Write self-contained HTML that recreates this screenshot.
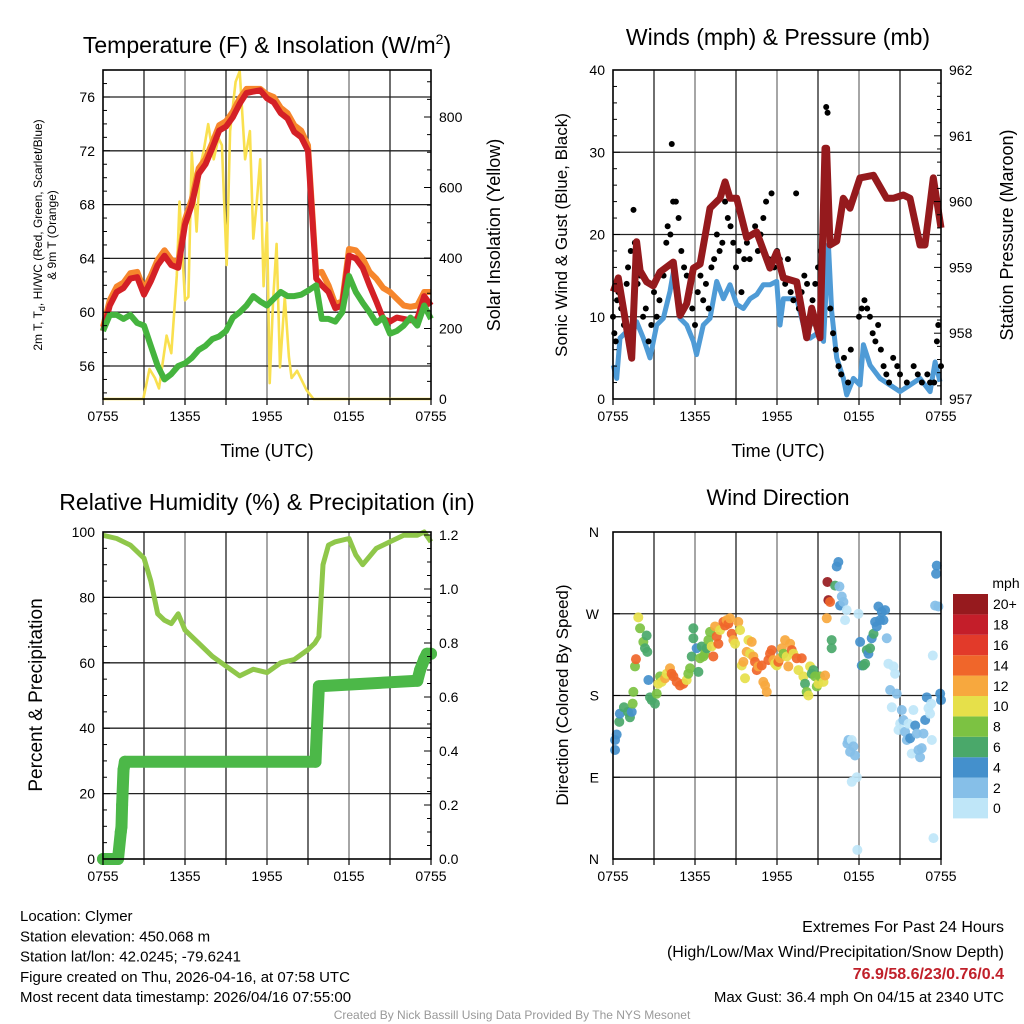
<!DOCTYPE html>
<html><head><meta charset="utf-8"><style>
html,body{margin:0;padding:0;background:#fff;}
svg{display:block;font-family:"Liberation Sans",Arial,sans-serif;}
</style></head><body>
<svg id="c" width="1024" height="1024" viewBox="0 0 1024 1024" xmlns="http://www.w3.org/2000/svg"></svg>
<script>
// ---------- DATA ----------
const hrTicks = ["0755","1355","1955","0155","0755"];
const tempT = [0,0.5,1,1.5,2,2.5,3,3.5,4,4.5,5,5.5,6,6.5,7,7.5,8,8.5,9,9.5,10,10.5,11,11.5,12,12.5,13,13.5,14,14.5,15,15.6,16,16.5,17,17.5,18,18.5,19,19.5,20,20.5,21,21.5,22,22.5,23,23.5,24];
const tempRed = [58.6,60.5,61.5,61.8,62.5,62.6,61.3,62.3,63.5,64.2,63.5,63.3,66.5,68,70.3,71,72.2,73.5,73.8,74.5,75.5,76.3,76.4,76.5,75.9,75.6,74.8,74.4,73.4,73,72,62.5,62,61.5,60.3,60.5,64.2,64,63.3,62,60.8,59.5,59.3,59.6,59.5,59.4,59.5,61.2,60.5];
const tempOrange = [58.9,60.9,61.9,62.2,62.9,63,61.7,62.7,63.9,64.6,63.9,63.7,66.9,68.4,70.7,71.4,72.6,73.9,74.2,74.9,75.9,76.6,76.6,76.6,76.2,76,75.2,74.8,73.9,73.5,72.4,62.9,63,62,60.6,60.8,64.7,64.6,64,63,62.5,61.8,61.5,61,60.5,60.4,60.5,61.5,61.5];
const tempDew = [58.6,59.8,59.8,59.5,59.8,59.2,59.0,57.5,56,55,55.4,56,56.2,56.6,57.2,57.5,58,58.2,58.6,59.6,60,60.5,61.2,60.8,60.5,61,61.5,61.2,61.2,61.3,61.6,62,59.5,59.5,59.3,60,62.7,61.5,60.7,60,59.2,59.6,58.4,58.6,59,59.6,59,60.5,59.5];
const solT = [0,2.95,3.4,3.8,4.1,4.65,5.0,5.4,5.6,6.0,6.25,6.5,6.85,7.1,7.35,7.7,8.1,8.45,8.7,9.05,9.3,9.7,10.0,10.4,10.75,11.0,11.25,11.5,11.75,12.0,12.2,12.45,12.7,12.95,13.3,13.6,13.8,14.2,14.9,15.4,24];
const solV = [0,0,85,60,30,180,130,350,560,280,290,700,475,660,700,780,680,740,720,380,760,900,930,680,760,455,560,680,320,500,45,280,440,90,290,120,60,80,25,0,0];
const presT = [0.02,0.39,1.24,1.37,1.73,1.98,2.46,2.95,3.44,4.41,4.9,5.39,5.88,6.37,7.1,7.83,8.2,8.56,9.05,9.78,10.51,11.49,11.98,12.46,13.44,14.17,14.54,15.15,15.51,15.63,15.88,16.37,16.85,17.34,18.07,19.05,20.02,20.51,21.24,21.73,22.46,22.83,23.44,24];
const presV = [958.63,958.84,957.78,957.62,959.39,958.95,958.78,958.72,958.93,959.08,958.27,958.45,958.99,959.05,959.9,960.05,960.3,960.05,960.05,959.45,959.54,958.99,959.23,958.84,958.78,957.93,958.38,957.93,960.81,960.81,959.34,959.4,960.05,959.9,960.36,960.4,960.05,960.05,960.1,960.05,959.34,959.34,960.36,959.6];
const windT = [0.02,0.27,0.51,1.0,1.24,1.73,2.22,2.71,3.2,3.68,4.17,4.42,4.9,5.39,5.88,6.12,6.61,7.1,7.59,8.08,8.56,9.05,9.54,10.03,10.52,11.0,11.49,11.98,12.22,12.47,12.96,13.44,13.93,14.42,15.15,15.4,15.76,16.0,16.37,16.86,17.1,17.59,18.07,18.32,18.81,19.54,20.27,21.0,21.73,22.46,23.2,23.57,23.93];
const windV = [4.1,2.5,7.4,8.2,7,9.4,7.4,5,9,9.8,13.1,15.5,9.8,9,7,5.4,9,9.8,14.3,12.2,13.9,11.5,11,12.2,12.7,13.9,13.9,14.3,9,12.2,12.2,12.2,9,7.4,8.2,7,18.8,10.6,5,2.5,0.5,2.5,1.7,6.6,4.1,2.5,1.7,0.9,1.7,2.5,0.9,4.5,2.1];
const gustT = [0.0,0.1,0.2,0.3,0.4,0.6,0.8,1.0,1.1,1.3,1.5,1.6,1.8,2.0,2.2,2.4,2.6,2.8,3.0,3.2,3.4,3.7,3.9,4.0,4.2,4.3,4.4,4.6,4.8,5.0,5.2,5.4,5.6,5.8,6.0,6.2,6.4,6.6,6.8,7.0,7.2,7.4,7.6,7.8,8.0,8.2,8.4,8.6,8.8,9.0,9.2,9.4,9.6,9.8,10.0,10.2,10.4,10.6,10.8,11.0,11.2,11.4,11.6,11.8,12.0,12.2,12.4,12.6,12.8,13.0,13.2,13.4,13.6,13.8,14.0,14.2,14.4,14.6,14.8,15.0,15.2,15.6,15.7,15.9,16.1,16.3,16.5,16.7,16.9,17.2,17.4,18.0,18.2,18.4,18.6,18.8,19.0,19.2,19.4,19.6,19.8,20.0,20.2,20.5,20.8,21.0,21.5,22.0,22.3,22.6,23.0,23.2,23.5,23.7,23.8,24.0];
const gustV = [10,8,7,12,13,11,9,14,16,18,23,19,14,15,10,11,7,9,13,10,12,15,19,21,20,31,24,24,22,18,16,15,13,11,9,13,15,12,14,11,16,17,20,18,19,24,22,21,19,16,18,13,17,19,17,20,21,18,20,22,24,17,25,16,18,17,15,14,17,13,12,25,11,13,15,14,9,12,14,16,18,35.5,34.8,11,8,6,4,3,5,2,6,10,11,12,11,10,8,7,9,6,4,3,2,5,4,3,2,4,3,2,3,2,2,7,9,4];
const rhT = [0,1,2,3,3.5,4,4.5,5,5.5,6,7,8,9,10,11,12,13,14,15,15.5,15.8,16.1,16.5,17,18,18.5,19,20,21,22,23,23.5,24];
const rhV = [99,98,96,92,85,75,73,72,75,70,66,62,59,56,58,57,60,61,64,66,68,90,96,97,98,93,90,95,97,99,99,100,97];
const precT = [0,1.1,1.3,1.35,1.4,1.5,1.6,15.55,15.65,15.8,23.0,23.2,23.5,23.7,24];
const precV = [0,0,0.1,0.12,0.2,0.33,0.36,0.36,0.48,0.64,0.66,0.70,0.74,0.76,0.76];
const dirT = [0.15,0.15,0.27,0.46,0.5,0.8,1.1,1.24,1.37,1.44,1.49,1.61,1.68,1.85,1.98,2.22,2.34,2.46,2.51,2.59,2.71,2.83,3.07,3.2,3.32,3.44,3.56,3.81,3.93,4.17,4.29,4.42,4.66,4.9,5.15,5.39,5.51,5.64,5.76,5.88,5.88,6.12,6.25,6.37,6.49,6.61,6.73,6.86,6.98,7.1,7.22,7.34,7.47,7.59,7.71,7.83,8.08,8.2,8.32,8.44,8.56,8.69,8.81,8.93,9.17,9.3,9.42,9.54,9.66,9.78,9.91,10.03,10.15,10.27,10.39,10.52,10.64,10.88,11.0,11.13,11.25,11.37,11.49,11.61,11.74,11.86,11.98,12.1,12.22,12.35,12.47,12.59,12.71,12.83,12.96,13.08,13.2,13.44,13.57,13.81,13.93,14.05,14.17,14.3,14.42,14.54,14.66,14.79,14.91,15.03,15.15,15.4,15.52,15.64,15.69,15.76,15.88,16.0,16.0,16.25,16.37,16.49,16.57,16.62,16.74,16.86,16.98,17.1,17.15,17.23,17.35,17.47,17.59,17.71,17.84,17.47,17.88,17.96,18.08,18.2,18.32,18.45,18.57,18.69,18.81,18.93,19.06,19.18,19.3,19.42,19.54,19.67,19.79,19.91,20.03,20.15,20.28,20.4,20.52,20.64,20.76,20.89,21.01,21.13,21.25,21.37,21.5,21.62,21.74,21.86,21.98,22.11,22.23,22.35,22.47,22.59,22.72,22.84,22.96,23.08,23.2,23.28,23.33,23.4,23.45,23.57,23.64,23.69,23.81,23.94,24.0];
const dirD = [131,120,137,151,160,167,162,156,162,171,184,212,220,266,254,239,232,246,228,197,178,175,171,182,193,201,195,199,204,210,204,201,195,191,193,197,204,210,223,254,243,232,206,221,234,223,226,232,241,250,234,223,256,245,237,252,261,257,263,259,265,248,241,237,261,252,213,217,199,228,241,226,239,223,217,208,212,213,195,191,184,219,226,230,219,215,213,217,221,232,226,241,223,212,237,230,226,221,208,221,201,193,184,180,212,204,208,201,190,193,201,195,202,265,305,285,283,241,232,301,322,327,300,279,289,283,263,274,127,131,118,131,124,114,90,85,10,270,239,213,213,215,230,226,232,243,248,261,256,278,263,272,263,274,243,215,186,167,212,204,182,142,149,164,153,140,131,149,133,116,164,147,138,120,112,122,138,153,178,166,160,171,131,224,23,279,314,323,278,182,175];
const dirS = [4,4,4,6,4,6,6,6,4,7,8,8,14,10,8,8,6,6,6,4,6,6,6,8,10,7,10,12,10,12,14,14,14,14,14,10,8,8,6,6,6,4,6,8,6,8,8,6,8,8,10,14,12,14,14,10,14,14,12,14,12,14,12,10,12,10,10,12,10,12,10,10,12,12,14,14,12,14,12,12,12,14,14,14,12,10,10,14,12,12,8,12,10,12,12,14,10,14,10,14,10,6,8,10,10,6,6,8,8,10,8,10,12,12,20,20,14,6,6,6,4,4,2,4,2,2,0,0,2,2,2,0,2,2,0,0,0,0,4,4,6,6,6,4,6,4,6,4,4,4,4,4,4,4,2,0,2,0,0,0,2,0,0,2,2,2,2,0,4,0,0,4,2,2,2,2,2,4,4,0,0,0,0,0,0,2,4,4,2,4,4];
const speedLabels = ["0","2","4","6","8","10","12","14","16","18","20+"];
const speedColors = ["#bfe6f8","#86bfe8","#4490cc","#4aa86a","#7cc242","#e6e04a","#f7a83e","#f0662a","#e23a2a","#c41e2a","#961a1e"];

// ---------- HELPERS ----------
const NS="http://www.w3.org/2000/svg";
const svg=document.getElementById('c');
function mk(tag,attrs,parent){const e=document.createElementNS(NS,tag);for(const k in attrs)e.setAttribute(k,attrs[k]);(parent||svg).appendChild(e);return e;}
function txt(s,x,y,size,anchor,rot,parent,fill,weight){const e=mk('text',{x:x,y:y,'font-size':size,'text-anchor':anchor||'middle',fill:fill||'#000'},parent);if(weight)e.setAttribute('font-weight',weight);if(rot)e.setAttribute('transform','rotate('+rot+' '+x+' '+y+')');e.textContent=s;return e;}
function lin(d0,d1,r0,r1){return v=>r0+(v-d0)/(d1-d0)*(r1-r0);}
function path(xs,ys,fx,fy){let d='';for(let i=0;i<xs.length;i++)d+=(i?'L':'M')+fx(xs[i]).toFixed(1)+' '+fy(ys[i]).toFixed(1);return d;}

function panel(name,x0,y0,x1,y1,hGridVals,fy){
  const g=mk('g',{},svg);
  
  
  for(let i=1;i<8;i++){const x=x0+(x1-x0)*i/8;mk('line',{x1:x,y1:y0,x2:x,y2:y1,stroke:(i%2?'#222':'#777'),'stroke-width':1.3},g);}
  hGridVals.forEach(v=>{const y=fy(v);mk('line',{x1:x0,y1:y,x2:x1,y2:y,stroke:'#222','stroke-width':1.3},g);});
  return g;
}
function frame(g,x0,y0,x1,y1){mk('rect',{x:x0,y:y0,width:x1-x0,height:y1-y0,fill:'none',stroke:'#000','stroke-width':1.6},g);}
function xTicks(g,x0,x1,y1){const fx=lin(0,24,x0,x1);
  for(let i=0;i<=24;i+=3){mk('line',{x1:fx(i),y1:y1,x2:fx(i),y2:y1+6,stroke:'#000','stroke-width':1.2},g);}
  hrTicks.forEach((s,i)=>{const t=txt(s,fx(i*6),y1+22,14,'middle',0,g);});}

// ---------- PANEL 1 ----------
(function(){
  const x0=103,x1=431,y0=70,y1=399;
  const fx=lin(0,24,x0,x1), fy=lin(56,76,366,97), fs=lin(0,800,399,117);
  const g=panel('temperature-panel',x0,y0,x1,y1,[56,60,64,68,72,76],fy);
  const ys=mk('path',{d:path(solT,solV,fx,fs),fill:'none',stroke:'#f9e04f','stroke-width':2.6,'stroke-linejoin':'round'},g);
  
  const od=mk('path',{d:path(tempT,tempOrange,fx,fy),fill:'none',stroke:'#f6862c','stroke-width':6,'stroke-linejoin':'round'},g);
  
  const rd=mk('path',{d:path(tempT,tempRed,fx,fy),fill:'none',stroke:'#d42026','stroke-width':6,'stroke-linejoin':'round'},g);
  
  const gd=mk('path',{d:path(tempT,tempDew,fx,fy),fill:'none',stroke:'#45b43e','stroke-width':6,'stroke-linejoin':'round'},g);
  
  frame(g,x0,y0,x1,y1);
  for(let v=54;v<=78;v++){const y=fy(v);if(y<y0||y>y1)continue;mk('line',{x1:x0,y1:y,x2:x0+(v%4==0?7:4),y2:y,stroke:'#000','stroke-width':1},g);}
  [56,60,64,68,72,76].forEach(v=>{const t=txt(String(v),x0-8,fy(v)+5,14,'end',0,g);});
  for(let v=0;v<=900;v+=50){const y=fs(v);if(y<y0)continue;mk('line',{x1:x1,y1:y,x2:x1-(v%200==0?7:4),y2:y,stroke:'#000','stroke-width':1},g);}
  [0,200,400,600,800].forEach(v=>{const t=txt(String(v),x1+8,fs(v)+5,14,'start',0,g);});
  xTicks(g,x0,x1,y1);
  const tt=mk('text',{x:267,y:53,'font-size':23,'text-anchor':'middle'},g);
  tt.innerHTML='Temperature (F) &amp; Insolation (W/m<tspan dy="-9" font-size="14">2</tspan><tspan dy="9">)</tspan>';
  
  const yl=mk('text',{x:42,y:235,'font-size':12,'text-anchor':'middle',transform:'rotate(-90 42 235)'},g);
  yl.innerHTML='2m T, T<tspan dy="3" font-size="9">d</tspan><tspan dy="-3">, HI/WC (Red, Green, Scarlet/Blue)</tspan>';
  
  const yl2=txt('& 9m T (Orange)',56,235,12,'middle',-90,g);
  const yr=txt('Solar Insolation (Yellow)',500,235,18,'middle',-90,g);
  const xl=txt('Time (UTC)',267,457,18,'middle',0,g);
})();

// ---------- PANEL 2 ----------
(function(){
  const x0=613,x1=941,y0=70,y1=399;
  const fx=lin(0,24,x0,x1), fy=lin(0,40,y1,y0), fp=lin(957,962,y1,y0);
  const g=panel('winds-panel',x0,y0,x1,y1,[10,20,30],fy);
  const bl=mk('path',{d:path(windT,windV,fx,fy),fill:'none',stroke:'#4f9bd6','stroke-width':5,'stroke-linejoin':'round'},g);
  
  gustT.forEach((t,i)=>{const c=mk('circle',{cx:fx(t),cy:fy(gustV[i]),r:3,fill:'#000'},g);
    });
  const pr=mk('path',{d:path(presT,presV,fx,fp),fill:'none',stroke:'#951a1d','stroke-width':7,'stroke-linejoin':'round'},g);
  
  frame(g,x0,y0,x1,y1);
  for(let v=0;v<=40;v+=2){const y=fy(v);mk('line',{x1:x0,y1:y,x2:x0+(v%10==0?7:4),y2:y,stroke:'#000','stroke-width':1},g);}
  [0,10,20,30,40].forEach(v=>{const t=txt(String(v),x0-8,fy(v)+5,14,'end',0,g);});
  for(let v=957;v<=962.001;v+=0.2){const y=fp(v);mk('line',{x1:x1,y1:y,x2:x1-(Math.abs(v-Math.round(v))<0.01?7:4),y2:y,stroke:'#000','stroke-width':1},g);}
  [957,958,959,960,961,962].forEach(v=>{const t=txt(String(v),x1+8,fp(v)+5,14,'start',0,g);});
  xTicks(g,x0,x1,y1);
  const tt=txt('Winds (mph) & Pressure (mb)',778,45,23,'middle',0,g);
  const yl=txt('Sonic Wind & Gust (Blue, Black)',567,235,17,'middle',-90,g);
  const yr=txt('Station Pressure (Maroon)',1013,235,18,'middle',-90,g);
  const xl=txt('Time (UTC)',778,457,18,'middle',0,g);
})();

// ---------- PANEL 3 ----------
(function(){
  const x0=103,x1=431,y0=532,y1=859;
  const fx=lin(0,24,x0,x1), fy=lin(0,100,y1,y0), fr=lin(0,1.2,859,535);
  const g=panel('humidity-panel',x0,y0,x1,y1,[20,40,60,80],fy);
  const rh=mk('path',{d:path(rhT,rhV,fx,fy),fill:'none',stroke:'#8fc74a','stroke-width':5,'stroke-linejoin':'round'},g);
  
  let d='';precT.forEach((t,i)=>{d+=(i?'L':'M')+fx(t).toFixed(1)+' '+fr(precV[i]).toFixed(1);});
  const pl=mk('path',{d:d,fill:'none',stroke:'#4cb848','stroke-width':12,'stroke-linecap':'round','stroke-linejoin':'round'},g);
  
  precT.forEach((t,i)=>{const c=mk('circle',{cx:fx(t),cy:fr(precV[i]),r:6,fill:'#4cb848'},g);
    });
  frame(g,x0,y0,x1,y1);
  for(let v=0;v<=100;v+=5){const y=fy(v);mk('line',{x1:x0,y1:y,x2:x0+(v%20==0?7:4),y2:y,stroke:'#000','stroke-width':1},g);}
  [0,20,40,60,80,100].forEach(v=>{const t=txt(String(v),x0-8,fy(v)+5,14,'end',0,g);});
  for(let i=0;i<=24;i++){const v=i*0.05;const y=fr(v);mk('line',{x1:x1,y1:y,x2:x1-(i%4==0?7:4),y2:y,stroke:'#000','stroke-width':1},g);}
  ["0.0","0.2","0.4","0.6","0.8","1.0","1.2"].forEach(s=>{const t=txt(s,x1+8,fr(parseFloat(s))+5,14,'start',0,g);});
  xTicks(g,x0,x1,y1);
  const tt=txt('Relative Humidity (%) & Precipitation (in)',267,510,23,'middle',0,g);
  const yl=txt('Percent & Precipitation',42,695,19,'middle',-90,g);
})();

// ---------- PANEL 4 ----------
(function(){
  const x0=613,x1=941,y0=532,y1=859;
  const fx=lin(0,24,x0,x1), fy=lin(0,360,y1,y0);
  const g=panel('wind-direction-panel',x0,y0,x1,y1,[90,180,270],fy);
  dirT.forEach((t,i)=>{const ci=Math.min(10,Math.round(dirS[i]/2));
    const c=mk('circle',{cx:fx(t),cy:fy(dirD[i]),r:5,fill:speedColors[ci],'fill-opacity':0.92},g);
    });
  frame(g,x0,y0,x1,y1);
  ["N","E","S","W","N"].forEach((s,i)=>{const y=fy(i*90);mk('line',{x1:x0,y1:y,x2:x0+7,y2:y,stroke:'#000'},g);
    const t=txt(s,x0-14,y+5,14,'end',0,g);});
  xTicks(g,x0,x1,y1);
  const tt=txt('Wind Direction',778,505,22,'middle',0,g);
  const yl=txt('Direction (Colored By Speed)',568,695,17,'middle',-90,g);
  const lg=mk('g',{},svg);
  
  const ut=txt('mph',1006,588,14,'middle',0,lg);
  const bh=20.4;
  speedColors.forEach((c,i)=>{const y=594+(10-i)*bh;
    const r=mk('rect',{x:953,y:y,width:35,height:bh,fill:c},lg);
    
    const t=txt(speedLabels[i],993,y+bh/2+5,14,'start',0,lg);});
})();

// ---------- FOOTER ----------
(function(){
  const g=mk('g',{},svg);
  
  ["Location: Clymer","Station elevation: 450.068 m","Station lat/lon: 42.0245; -79.6241","Figure created on Thu, 2026-04-16, at 07:58 UTC","Most recent data timestamp: 2026/04/16 07:55:00"].forEach((s,i)=>{
    const t=txt(s,20,921+i*20.3,15,'start',0,g);});
  const r=mk('g',{},svg);
  
  const a=txt('Extremes For Past 24 Hours',1004,932,16,'end',0,r);
  const b=txt('(High/Low/Max Wind/Precipitation/Snow Depth)',1004,957,16,'end',0,r);
  const c=txt('76.9/58.6/23/0.76/0.4',1004,979,16,'end',0,r,'#c0202a','bold');
  const d=txt('Max Gust: 36.4 mph On 04/15 at 2340 UTC',1004,1002,15,'end',0,r);
  const e=txt('Created By Nick Bassill Using Data Provided By The NYS Mesonet',512,1019,12,'middle',0,svg,'#999');
  
})();
</script>
</body></html>
